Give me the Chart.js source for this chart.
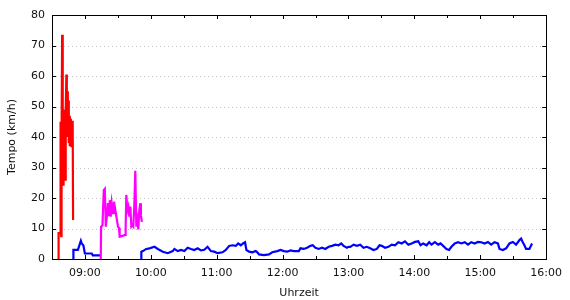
<!DOCTYPE html>
<html>
<head>
<meta charset="utf-8">
<script src="https://cdn.jsdelivr.net/npm/chart.js@4/dist/chart.umd.min.js"></script>
<style>
  html, body { margin: 0; padding: 0; background: #fff; }
  #wrap { width: 570px; height: 300px; }
</style>
</head>
<body>
<div id="wrap"><canvas id="speedChart"></canvas></div>
<script>
// time of day in decimal hours, speed in km/h
const redTimes = [8.595, 8.600, 8.625, 8.630, 8.639, 8.645, 8.654, 8.663, 8.669, 8.675, 8.684, 8.693, 8.701, 8.708,
    8.718, 8.725, 8.733, 8.740, 8.748, 8.755, 8.763, 8.770, 8.778, 8.786, 8.795, 8.802, 8.814, 8.820];
const redSpeeds = [0, 8.5, 8.5, 45, 7.5, 40, 73.5, 30, 46, 24, 49, 44, 26, 48,
    60.5, 40, 55, 43, 52, 38, 47, 37, 46, 44, 37, 45, 45, 12.8];

const magentaTimes = [9.240, 9.245, 9.266, 9.286, 9.301, 9.311, 9.316, 9.335, 9.350, 9.366, 9.376, 9.391, 9.406,
    9.426, 9.441, 9.462, 9.477, 9.502, 9.517, 9.527, 9.613, 9.618, 9.628, 9.644, 9.659, 9.674, 9.689, 9.704,
    9.719, 9.734, 9.749, 9.764, 9.780, 9.795, 9.810, 9.825, 9.840, 9.849, 9.864];
const magentaSpeeds = [0, 10.6, 11, 22.6, 23, 16, 10.6, 14.4, 18.3, 14.4, 19.3, 13.9, 18.3,
    15, 18.8, 16, 13.9, 10.6, 10.2, 7.3, 7.9, 10.6, 21, 16, 17.2, 13.9, 17.2, 10.6,
    11, 10.6, 17.2, 28.9, 10.6, 12.8, 9.7, 16, 18.3, 14.4, 12.2];

const blueTimes = [8.822, 8.825, 8.893, 8.908, 8.938, 8.953, 8.976, 8.999, 9.104, 9.119, 9.230, 9.235,
    9.854, 9.856, 9.880, 9.930, 9.980, 10.056, 10.106, 10.182, 10.257, 10.333, 10.358, 10.408, 10.459, 10.509,
    10.559, 10.610, 10.660, 10.711, 10.761, 10.811, 10.861, 10.912, 10.962, 11.013, 11.088, 11.138, 11.189,
    11.239, 11.290, 11.325, 11.365, 11.400, 11.430, 11.451, 11.491, 11.541, 11.592, 11.617, 11.642, 11.717,
    11.793, 11.843, 11.919, 11.969, 12.020, 12.070, 12.120, 12.171, 12.246, 12.271, 12.322, 12.372, 12.422,
    12.458, 12.498, 12.548, 12.599, 12.649, 12.699, 12.750, 12.800, 12.850, 12.891, 12.926, 12.976, 13.001,
    13.027, 13.077, 13.127, 13.178, 13.228, 13.278, 13.329, 13.379, 13.430, 13.470, 13.505, 13.555, 13.606,
    13.656, 13.706, 13.757, 13.807, 13.857, 13.908, 13.958, 14.009, 14.059, 14.094, 14.134, 14.185, 14.225,
    14.260, 14.311, 14.361, 14.396, 14.437, 14.487, 14.527, 14.562, 14.613, 14.663, 14.713, 14.764, 14.814,
    14.864, 14.915, 14.965, 15.015, 15.066, 15.116, 15.166, 15.217, 15.267, 15.292, 15.343, 15.393, 15.443,
    15.494, 15.544, 15.595, 15.620, 15.645, 15.670, 15.695, 15.746, 15.786];
const blueSpeeds = [0, 3, 3, 4, 6, 5, 4.5, 1.8, 1.8, 1.2, 1.2, null,
    0, 2.4, 2.6, 3.3, 3.5, 4.0, 3.3, 2.4, 1.9, 2.6, 3.3, 2.6, 2.95, 2.6,
    3.7, 3.3, 2.95, 3.5, 2.8, 3.0, 4.0, 2.6, 2.4, 1.9, 2.2, 2.95, 4.3,
    4.5, 4.3, 5.1, 4.5, 5.1, 5.5, 2.95, 2.4, 2.2, 2.6, 2.2, 1.5, 1.3,
    1.5, 2.2, 2.6, 2.95, 2.6, 2.4, 2.8, 2.6, 2.6, 3.5, 3.3, 3.7, 4.3,
    4.5, 3.7, 3.3, 3.7, 3.3, 4.0, 4.3, 4.7, 4.5, 5.1, 4.3, 3.7, 4.0,
    4.0, 4.7, 4.3, 4.7, 3.7, 4.0, 3.5, 2.95, 3.3, 4.5, 4.3, 3.7, 4.0,
    4.7, 4.5, 5.5, 5.1, 5.8, 4.7, 5.1, 5.6, 5.8, 4.5, 5.1, 4.5, 5.5,
    4.7, 5.5, 4.7, 5.1, 4.3, 3.3, 2.95, 4.0, 5.1, 5.5, 5.1, 5.5, 4.7,
    5.5, 5.1, 5.6, 5.5, 5.1, 5.6, 4.7, 5.5, 5.1, 3.3, 2.95, 3.5, 5.1,
    5.6, 4.7, 6.2, 6.7, 5.5, 4.5, 3.3, 3.3, 5.1];

const xMin = 8.5;
const xMax = 16;
const yTicks = [0, 10, 20, 30, 40, 50, 60, 70, 80];

const FONT = { family: "'DejaVu Sans', Verdana, sans-serif", size: 11 };

function toPoints(times, speeds) {
    return times.map((t, i) => ({ x: t, y: speeds[i] }));
}

function hhmm(v) {
    const h = Math.floor(v);
    const m = Math.round((v - h) * 60);
    return String(h).padStart(2, '0') + ':' + String(m).padStart(2, '0');
}

// gnuplot-like frame, dotted grid and inward tick marks
const framePlugin = {
    id: 'frame',
    beforeDatasetsDraw(chart) {
        const ctx = chart.ctx;
        const a = chart.chartArea;
        const ys = chart.scales.y;
        ctx.save();
        ctx.strokeStyle = '#c4c4c4';
        ctx.lineWidth = 1;
        ctx.setLineDash([1, 3]);
        ctx.beginPath();
        ys.ticks.forEach(t => {
            if (t.value === 0 || t.value === 80) return;
            const py = Math.round(ys.getPixelForValue(t.value)) + 0.5;
            ctx.moveTo(a.left + 4, py);
            ctx.lineTo(a.right - 4, py);
        });
        ctx.stroke();
        ctx.restore();
    },
    afterDraw(chart) {
        const ctx = chart.ctx;
        const a = chart.chartArea;
        const xs = chart.scales.x;
        const ys = chart.scales.y;
        ctx.save();
        ctx.strokeStyle = '#000';
        ctx.lineWidth = 1;
        ctx.beginPath();
        xs.ticks.forEach(t => {
            const px = Math.round(xs.getPixelForValue(t.value)) + 0.5;
            const len = Number.isInteger(t.value) ? 4 : 3;
            ctx.moveTo(px, a.bottom);
            ctx.lineTo(px, a.bottom - len);
            ctx.moveTo(px, a.top);
            ctx.lineTo(px, a.top + len);
        });
        ys.ticks.forEach(t => {
            const py = Math.round(ys.getPixelForValue(t.value)) + 0.5;
            ctx.moveTo(a.left, py);
            ctx.lineTo(a.left + 4, py);
            ctx.moveTo(a.right, py);
            ctx.lineTo(a.right - 4, py);
        });
        ctx.stroke();
        ctx.strokeRect(Math.round(a.left) + 0.5, Math.round(a.top) + 0.5,
            Math.round(a.right - a.left), Math.round(a.bottom - a.top));
        ctx.restore();
    }
};

new Chart(
    document.getElementById('speedChart'),
    {
        type: 'line',
        data: {
            datasets: [
                { data: toPoints(redTimes, redSpeeds), borderColor: '#ff0000' },
                { data: toPoints(magentaTimes, magentaSpeeds), borderColor: '#ff00ff' },
                { data: toPoints(blueTimes, blueSpeeds), borderColor: '#0000ff' }
            ]
        },
        options: {
            responsive: true,
            maintainAspectRatio: false,
            animation: false,
            layout: { padding: { top: 15, right: 21, left: 0, bottom: 0 } },
            elements: {
                point: { radius: 0 },
                line: { borderWidth: 2.2, tension: 0, fill: false, borderJoinStyle: 'miter' }
            },
            plugins: {
                legend: { display: false },
                tooltip: { enabled: false }
            },
            scales: {
                x: {
                    type: 'linear',
                    min: xMin,
                    max: xMax,
                    afterFit(scale) { scale.height = 41; },
                    grid: { display: false, drawTicks: false },
                    border: { display: false },
                    ticks: {
                        stepSize: 0.5,
                        autoSkip: false,
                        maxRotation: 0,
                        padding: 8,
                        color: '#111',
                        font: FONT,
                        callback: v => Number.isInteger(v) ? hhmm(v) : ''
                    },
                    title: {
                        display: true,
                        text: 'Uhrzeit',
                        color: '#111',
                        font: FONT,
                        padding: { top: 3, bottom: 0 }
                    }
                },
                y: {
                    min: 0,
                    max: 80,
                    afterFit(scale) { scale.width = 52; },
                    afterBuildTicks(scale) { scale.ticks = yTicks.map(v => ({ value: v })); },
                    grid: { display: false, drawTicks: false },
                    border: { display: false },
                    ticks: {
                        padding: 7,
                        color: '#111',
                        font: FONT
                    },
                    title: {
                        display: true,
                        text: 'Tempo (km/h)',
                        color: '#111',
                        font: FONT,
                        padding: { top: 6, bottom: 4 }
                    }
                }
            }
        },
        plugins: [framePlugin]
    }
);
</script>
</body>
</html>
